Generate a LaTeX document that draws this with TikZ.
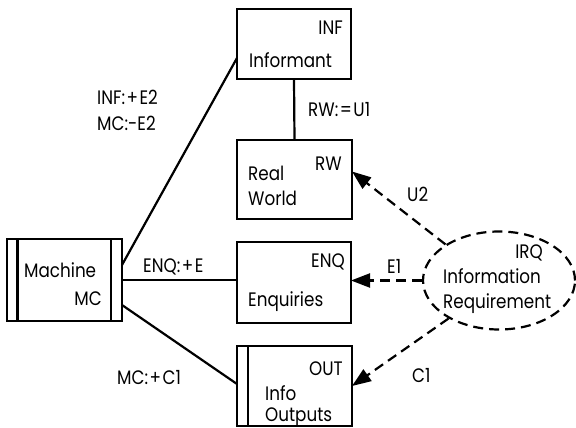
\documentclass[tikz,border=0pt]{standalone}
\usepackage{fontspec}
\setmainfont{Poppins}[FakeStretch=0.86]
\usetikzlibrary{shapes.geometric,arrows.meta}
\newcommand{\pk}{\kern1.5pt}
\begin{document}
\begin{tikzpicture}[x=1pt,y=-1pt,
  box/.style={draw,line width=2.2pt,minimum width=#1,inner sep=0pt,outer sep=0pt},
  txt/.style={inner sep=0pt,font=\fontsize{19.5}{22}\selectfont},
  conn/.style={line width=2.2pt},
  dconn/.style={line width=2.2pt,dash pattern=on 10pt off 6pt,-{Triangle[length=19pt,width=14pt]}}
]
\useasboundingbox (0,0) rectangle (576,428);
% boxes
\node[box=114pt,minimum height=70pt] (inf) at (294,44) {};
\node[box=115pt,minimum height=79pt] (rw) at (294.5,179.5) {};
\node[box=114pt,minimum height=81pt] (enq) at (294,282.5) {};
\node[box=115pt,minimum height=80pt] (out) at (294.5,386) {};
\node[box=115pt,minimum height=82pt] (mc) at (64.5,280) {};
\draw[conn] (mc.north west) ++(10.5,0) -- ++(0,82);
\draw[conn] (mc.north east) ++(-11,0) -- ++(0,82);
\draw[conn] (out.north west) ++(11,0) -- ++(0,80);
\node[draw,line width=2.2pt,dash pattern=on 10pt off 6pt,ellipse,minimum width=152pt,minimum height=98pt,inner sep=0pt] (irq) at (499,280.5) {};
% box texts
\node[txt,anchor=base east] (tinf) at (343,35) {INF};
\node[txt,anchor=base west] (tinf2) at (249,67) {Informant};
\node[txt,anchor=base east] (trw) at (342,170) {RW};
\node[txt,anchor=base west] (trw2) at (248,180) {Real};
\node[txt,anchor=base west] (trw3) at (248,205) {World};
\node[txt,anchor=base east] (tenq) at (345,267) {ENQ};
\node[txt,anchor=base west] (tenq2) at (248,306) {Enquiries};
\node[txt,anchor=base east] (tout) at (343,375) {OUT};
\node[txt,anchor=base west] (tout2) at (265,400) {Info};
\node[txt,anchor=base west] (tout3) at (265,421) {Outputs};
\node[txt,anchor=base west] (tmc) at (24,277) {Machine};
\node[txt,anchor=base east] (tmc2) at (102,305) {MC};
\node[txt,anchor=base east] (tirq) at (543,258) {IRQ};
\node[txt,anchor=base west] (tirq2) at (443,283) {Information};
\node[txt,anchor=base west] (tirq3) at (443,308) {Requirement};
% connectors
\draw[conn] ([yshift=15pt]mc.east) -- ([yshift=-14pt]inf.west);
\draw[conn] (mc.east) -- (mc.east -| enq.west);
\draw[conn] ([yshift=-25pt]mc.east) -- ([yshift=2pt]out.west);
\draw[conn] (inf.south) -- (rw.north);
\draw[dconn] (irq.146) -- ([yshift=8pt]rw.east);
\draw[dconn] (irq.west) -- (irq.west -| enq.east);
\draw[dconn] (irq.217) -- (out.east);
% labels
\node[txt,anchor=base west] (l1) at (97,104) {INF:\pk+\pk E2};
\node[txt,anchor=base west] (l2) at (97,130) {MC:-E2};
\node[txt,anchor=base west] (l3) at (143,272) {ENQ:\pk+\pk E};
\node[txt,anchor=base west] (l4) at (117,384) {MC:\pk+\pk C1};
\node[txt,anchor=base west] (l5) at (308,117) {RW:\pk=\pk U1};
\node[txt,anchor=base west] (l6) at (407,201) {U2};
\node[txt,anchor=base west] (l7) at (387,273) {E1};
\node[txt,anchor=base west] (l8) at (412,382) {C1};
\end{tikzpicture}
\end{document}
